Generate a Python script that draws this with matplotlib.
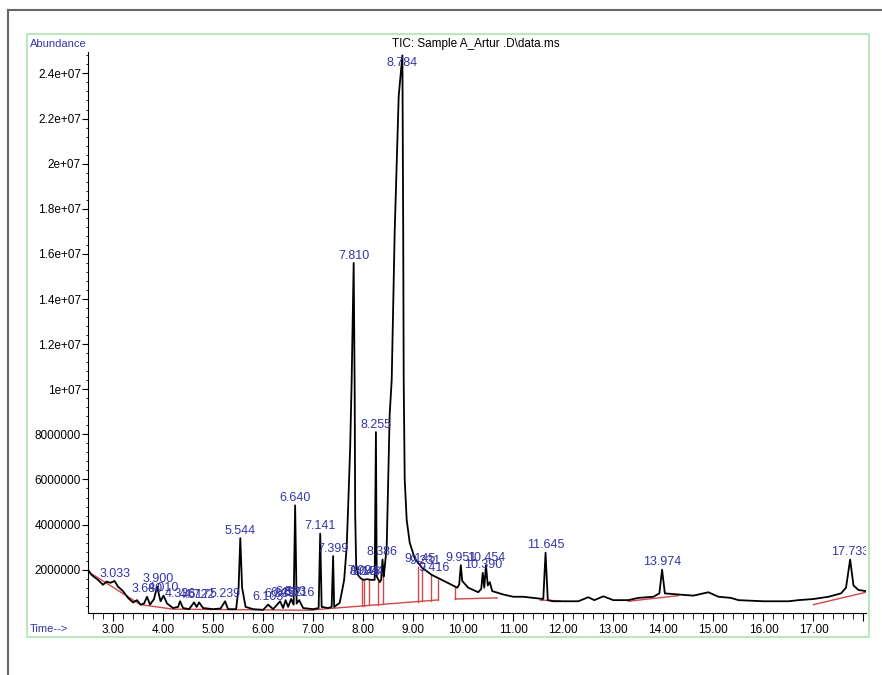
import numpy as np
import matplotlib
matplotlib.use("Agg")
import matplotlib.pyplot as plt
from matplotlib.lines import Line2D
from matplotlib.patches import Rectangle
from matplotlib.ticker import FixedLocator, MultipleLocator

plt.rcParams['font.family'] = ['Liberation Sans', 'DejaVu Sans']

# TIC trace (time in min, abundance in millions)
trace_t = [2.50, 2.57, 2.70, 2.80, 2.87, 2.95, 3.03, 3.10, 3.20, 3.30, 3.40, 3.48, 3.55, 3.62,
           3.68, 3.74, 3.82, 3.88, 3.95, 4.01, 4.08, 4.20, 4.30, 4.34, 4.40, 4.52, 4.62, 4.67,
           4.72, 4.80, 5.00, 5.15, 5.24, 5.30, 5.46, 5.51, 5.544, 5.58, 5.65, 5.80, 6.00, 6.10,
           6.20, 6.34, 6.40, 6.45, 6.50, 6.56, 6.61, 6.64, 6.67, 6.72, 6.80, 7.00, 7.11, 7.141,
           7.17, 7.30, 7.37, 7.399, 7.42, 7.53, 7.57, 7.62, 7.67, 7.70, 7.74, 7.77, 7.80, 7.81,
           7.83, 7.84, 7.86, 7.90, 7.95, 8.00, 8.08, 8.15, 8.23, 8.255, 8.27, 8.33, 8.36, 8.386,
           8.41, 8.43, 8.47, 8.50, 8.53, 8.57, 8.63, 8.71, 8.784, 8.80, 8.81, 8.83, 8.87, 8.93,
           9.03, 9.17, 9.37, 9.57, 9.75, 9.88, 9.92, 9.951, 9.98, 10.10, 10.30, 10.36, 10.39,
           10.42, 10.454, 10.49, 10.53, 10.58, 10.80, 11.00, 11.20, 11.40, 11.60, 11.645, 11.69,
           11.80, 12.00, 12.30, 12.50, 12.62, 12.80, 13.00, 13.30, 13.50, 13.80, 13.92, 13.974,
           14.03, 14.30, 14.60, 14.90, 15.10, 15.35, 15.50, 16.00, 16.50, 16.70, 17.00, 17.30,
           17.55, 17.65, 17.733, 17.80, 17.90, 18.05]
trace_a = [2.00, 1.77, 1.55, 1.33, 1.47, 1.42, 1.50, 1.25, 1.05, 0.75, 0.55, 0.65, 0.45, 0.50,
           0.80, 0.45, 0.70, 1.25, 0.60, 0.85, 0.50, 0.30, 0.35, 0.60, 0.30, 0.25, 0.55, 0.35,
           0.55, 0.30, 0.25, 0.28, 0.60, 0.25, 0.25, 1.20, 3.40, 1.20, 0.35, 0.25, 0.22, 0.45,
           0.25, 0.60, 0.30, 0.65, 0.35, 0.70, 0.45, 4.85, 0.50, 0.65, 0.30, 0.25, 0.30, 3.60,
           0.35, 0.30, 0.35, 2.60, 0.35, 0.53, 0.97, 1.55, 3.00, 4.80, 7.40, 10.4, 14.5, 15.6,
           10.0, 4.50, 2.20, 1.75, 1.62, 1.55, 1.58, 1.55, 1.55, 8.10, 1.70, 1.45, 1.55, 2.45,
           1.70, 2.10, 3.00, 6.00, 8.90, 10.4, 17.0, 23.0, 24.8, 17.0, 10.4, 6.00, 4.20, 3.20,
           2.50, 2.10, 1.77, 1.55, 1.35, 1.20, 1.35, 2.20, 1.50, 1.20, 1.00, 1.15, 1.86,
           1.20, 2.20, 1.30, 1.45, 1.05, 0.90, 0.80, 0.80, 0.75, 0.70, 2.75, 0.65,
           0.60, 0.60, 0.60, 0.78, 0.65, 0.82, 0.65, 0.65, 0.75, 0.80, 0.95, 2.00,
           0.95, 0.90, 0.85, 1.00, 0.80, 0.75, 0.65, 0.60, 0.60, 0.65, 0.70, 0.80,
           0.95, 1.20, 2.45, 1.30, 1.10, 1.05]

# integrated peaks: retention time, label, apex abundance (millions)
peak_rt = [3.033, 3.680, 3.900, 4.010, 4.336, 4.617, 4.722, 5.239, 5.544, 6.103, 6.339,
           6.452, 6.563, 6.640, 6.716, 7.141, 7.399, 7.810, 7.994, 8.046, 8.104, 8.255,
           8.386, 8.784, 9.145, 9.231, 9.416, 9.951, 10.390, 10.454, 11.645, 13.974, 17.733]
peak_h = [1.50, 0.80, 1.25, 0.85, 0.60, 0.55, 0.55, 0.60, 3.40, 0.45, 0.60,
          0.65, 0.70, 4.85, 0.65, 3.60, 2.60, 15.6, 1.60, 1.55, 1.58, 8.10,
          2.45, 24.8, 2.15, 2.05, 1.75, 2.20, 1.86, 2.20, 2.75, 2.00, 2.45]

# integration baselines (red)
base_segs = [([2.55, 3.55, 4.20, 7.00], [1.85, 0.45, 0.25, 0.20]),
             ([7.00, 9.50], [0.22, 0.66]),
             ([9.84, 10.68], [0.70, 0.75]),
             ([11.54, 11.94], [0.65, 0.62]),
             ([13.30, 14.30], [0.60, 0.85]),
             ([17.00, 18.05], [0.45, 1.00])]
drop_t = [7.97, 8.02, 8.12, 8.30, 8.39, 9.09, 9.18, 9.35, 9.50, 9.84]
drop_top = [1.60, 1.55, 1.55, 1.45, 1.70, 2.10, 2.05, 1.75, 1.55, 1.20]

yticks = [2e6, 4e6, 6e6, 8e6, 1e7, 1.2e7, 1.4e7, 1.6e7, 1.8e7, 2e7, 2.2e7, 2.4e7]
ytick_labels = ['2000000', '4000000', '6000000', '8000000', '1e+07', '1.2e+07', '1.4e+07',
                '1.6e+07', '1.8e+07', '2e+07', '2.2e+07', '2.4e+07']
xticks = list(range(3, 19))
xtick_labels = ['%.2f' % v for v in range(3, 18)] + ['']

M = 1e6
blue = '#3434a8'
red = '#d04848'

fig = plt.figure(figsize=(8.82, 6.75), dpi=100)
ax = fig.add_axes([88 / 882, 62 / 675, 778 / 882, 561 / 675])

# red integration lines
for ts, vs in base_segs:
    ax.plot(ts, np.array(vs) * M, color=red, lw=1.0, zorder=2)
all_bt = np.concatenate([s[0] for s in base_segs])
all_bv = np.concatenate([s[1] for s in base_segs])
for t, top in zip(drop_t, drop_top):
    bot = np.interp(t, all_bt, all_bv)
    ax.plot([t, t], [bot * M, top * M], color=red, lw=1.0, zorder=2)

ax.plot(trace_t, np.array(trace_a) * M, color='black', lw=1.3, zorder=3)

ymax = 24.95e6
for rt, h in zip(peak_rt, peak_h):
    y = min(h * M, ymax - 0.8e6)
    ax.annotate('%.3f' % rt, (rt, y), xytext=(0, 1), textcoords='offset points',
                ha='center', va='bottom', fontsize=9, color=blue, zorder=4,
                annotation_clip=False, clip_on=(rt > 17))

ax.set_xlim(2.5, 18.05)
ax.set_ylim(0.08e6, ymax)
ax.spines['top'].set_visible(False)
ax.spines['right'].set_visible(False)
ax.xaxis.set_major_locator(FixedLocator(xticks))
ax.set_xticklabels(xtick_labels)
ax.xaxis.set_minor_locator(MultipleLocator(0.2))
ax.yaxis.set_major_locator(FixedLocator(yticks))
ax.set_yticklabels(ytick_labels)
ax.yaxis.set_minor_locator(MultipleLocator(4e5))
ax.tick_params(axis='x', which='major', length=6, labelsize=8.5, pad=2)
ax.tick_params(axis='x', which='minor', length=4)
ax.tick_params(axis='y', which='major', length=4, labelsize=8.5, pad=1)
ax.tick_params(axis='y', which='minor', length=1.5)

fig.text(30 / 882, 1 - 44 / 675, 'Abundance', color=blue, fontsize=8, ha='left', va='center')
fig.text(30 / 882, 1 - 629 / 675, 'Time-->', color=blue, fontsize=8, ha='left', va='center')
fig.text(476 / 882, 1 - 44 / 675, r'TIC: Sample A_Artur .D\data.ms', color='black',
         fontsize=8.5, ha='center', va='center')

# page frame and green plot frame
fig.add_artist(Line2D([8 / 882, 1], [1 - 10 / 675] * 2, color='#666666', lw=1.5))
fig.add_artist(Line2D([8 / 882] * 2, [0, 1 - 10 / 675], color='#666666', lw=1.5))
fig.add_artist(Rectangle((27 / 882, 1 - 637 / 675), 842 / 882, 603 / 675, fill=False,
                         edgecolor='#bde8bd', lw=1.5, transform=fig.transFigure))

fig.savefig('out.png', dpi=100)
